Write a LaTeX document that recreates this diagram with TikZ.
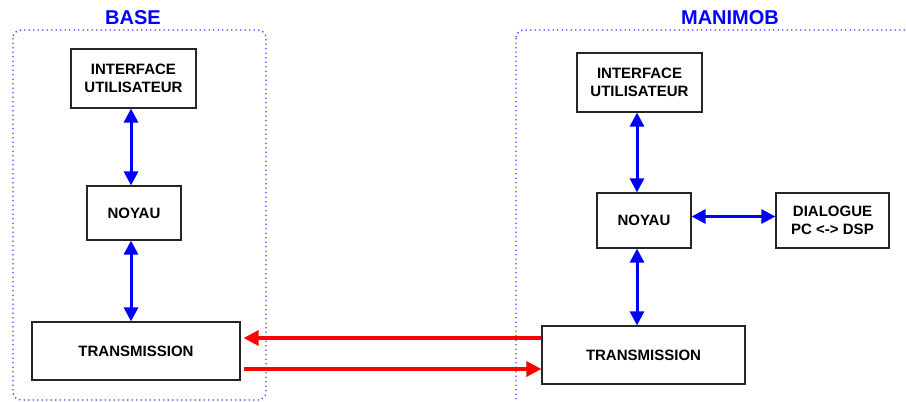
\documentclass[tikz,border=0pt]{standalone}
\usepackage{fontspec}
\setmainfont{Liberation Sans}
\usetikzlibrary{arrows.meta, positioning, calc}

\begin{document}
\begin{tikzpicture}[
        x=1pt, y=-1pt,
        font=\fontsize{15}{18.5}\selectfont\bfseries,
        modbox/.style={draw=black!85, line width=1.2pt, minimum width=#1, minimum height=0pt, inner sep=0pt, align=center, fill=white},
        zonebox/.style={draw=blue!75, line width=1.3pt, dash pattern=on 1.3pt off 3.2pt, rounded corners=8pt},
        zonelabel/.style={text=blue, font=\fontsize{20}{24}\selectfont\bfseries},
        barr/.style={{Triangle[length=14pt, width=14pt]}-{Triangle[length=14pt, width=14pt]}, line width=3pt, color=blue},
        rarr/.style={-{Triangle[length=15pt, width=15pt]}, line width=3.4pt, color=red}
      ]
        \useasboundingbox (0,0) rectangle (906,402);
        \clip (0,0) rectangle (906,402);

        \draw[zonebox] (13,30) rectangle (266,400);
        \draw[zonebox] (516,30) rectangle (960,440);
        \node[zonelabel] (base) at (133,18) {BASE};
        \node[zonelabel] (manimob) at (730,18) {MANIMOB};

        \node[modbox=125pt, minimum height=59pt] (ifL) at (133.5,78.5) {INTERFACE\\UTILISATEUR};
        \node[modbox=94pt, minimum height=54pt] (noyL) at (134,213) {NOYAU};
        \node[modbox=208pt, minimum height=58pt] (trL) at (136,351) {TRANSMISSION};

        \node[modbox=125pt, minimum height=59pt] (ifR) at (639.5,82.5) {INTERFACE\\UTILISATEUR};
        \node[modbox=94pt, minimum height=55pt] (noyR) at (644,220.5) {NOYAU};
        \node[modbox=113pt, minimum height=55pt] (dlg) at (832.5,220.5) {DIALOGUE\\PC <-> DSP};
        \node[modbox=203pt, minimum height=58pt] (trR) at (643.5,355) {TRANSMISSION};

        \draw[barr] ([xshift=-2.5pt]ifL.south) -- ([xshift=-3pt]noyL.north);
        \draw[barr] ([xshift=-3pt]noyL.south) -- ([xshift=-5pt]trL.north);
        \draw[barr] ([xshift=-2.5pt]ifR.south) -- ([xshift=-7pt]noyR.north);
        \draw[barr] ([xshift=-7pt]noyR.south) -- ([xshift=-6.5pt]trR.north);
        \draw[barr] ([yshift=4pt]noyR.east) -- ([yshift=4pt]dlg.west);

        \coordinate (back) at ([yshift=17pt]trR.west);
        \coordinate (fwd) at ([yshift=-18pt]trL.east);
        \draw[rarr] (back) -- ([xshift=3pt]back -| trL.east);
        \draw[rarr] ([xshift=3pt]fwd) -- (fwd -| trR.west);
      \end{tikzpicture}
\end{document}
